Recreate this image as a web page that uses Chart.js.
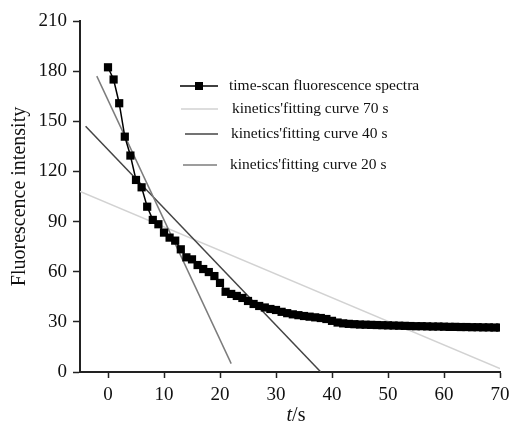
<!DOCTYPE html>
<html>
<head>
<meta charset="utf-8">
<script src="https://cdn.jsdelivr.net/npm/chart.js@4.4.0/dist/chart.umd.min.js"></script>
<style>
  html, body { margin: 0; padding: 0; background: #fff; }
  #wrap { width: 511px; height: 424px; position: relative; }
</style>
</head>
<body>
<div id="wrap"><canvas id="fluoChart" width="511" height="424"></canvas></div>
<script>
// time-scan data (s, a.u.)
const times = [0, 1, 2, 3, 4, 5, 6, 7, 8, 9, 10, 11, 12, 13, 14, 15, 16, 17, 18, 19, 20,
    21, 22, 23, 24, 25, 26, 27, 28, 29, 30, 31, 32, 33, 34, 35, 36, 37, 38, 39, 40,
    41, 42, 43, 44, 45, 46, 47, 48, 49, 50, 51, 52, 53, 54, 55, 56, 57, 58, 59, 60,
    61, 62, 63, 64, 65, 66, 67, 68, 69, 70];
const intensity = [182.3, 175, 160.8, 140.8, 129.5, 114.9, 110.5, 98.9, 91, 88.4, 83.4,
    80.4, 78.6, 73.4, 68.6, 67.4, 64, 61.6, 59.8, 57.4, 53.3,
    48, 46.7, 45.5, 44.3, 42.5, 40.7, 39.5, 38.6, 37.7, 37.1,
    36, 35.2, 34.5, 34, 33.5, 33.1, 32.7, 32.3, 31.7, 30.6,
    29.6, 29.1, 28.8, 28.6, 28.4, 28.3, 28.2, 28.1, 28, 27.9,
    27.8, 27.7, 27.6, 27.5, 27.4, 27.4, 27.3, 27.2, 27.2, 27.1,
    27, 27, 26.9, 26.9, 26.8, 26.8, 26.7, 26.7, 26.6, 26.6];

// kinetics fitting lines: endpoints [t, intensity]
const fit70 = [[-5, 108], [70, 2]];
const fit40 = [[-4, 147], [38, 0]];
const fit20 = [[-2, 177], [22, 5]];

const xTicks = [0, 10, 20, 30, 40, 50, 60, 70];
const yTicks = [0, 30, 60, 90, 120, 150, 180, 210];

const seriesLabels = [
    "time-scan fluorescence spectra",
    "kinetics'fitting curve 70 s",
    "kinetics'fitting curve 40 s",
    "kinetics'fitting curve 20 s"
];

const serif = "'Liberation Serif', 'DejaVu Serif', serif";
const toPts = arr => arr.map(p => ({ x: p[0], y: p[1] }));

// legend drawn inside the plot, rows have uneven spacing like the original
const legendPlugin = {
    id: "innerLegend",
    afterDraw(chart) {
        const ctx = chart.ctx;
        const rows = [
            { y: 86, x0: 180, x1: 218, tx: 229, ds: 0 },
            { y: 109, x0: 181, x1: 218, tx: 232, ds: 1 },
            { y: 134, x0: 185, x1: 218, tx: 231, ds: 2 },
            { y: 165, x0: 183, x1: 217, tx: 230, ds: 3 }
        ];
        ctx.save();
        rows.forEach(r => {
            const ds = chart.data.datasets[r.ds];
            ctx.strokeStyle = ds.borderColor;
            ctx.lineWidth = ds.borderWidth;
            ctx.beginPath();
            ctx.moveTo(r.x0, r.y);
            ctx.lineTo(r.x1, r.y);
            ctx.stroke();
            if (r.ds === 0) {
                ctx.fillStyle = "#000";
                ctx.fillRect(199 - 4, r.y - 4, 8, 8);
            }
            ctx.fillStyle = "#111";
            ctx.font = "15.5px " + serif;
            ctx.textBaseline = "middle";
            ctx.textAlign = "left";
            ctx.fillText(ds.label, r.tx, r.y);
        });

        // x axis title with italic t
        ctx.textBaseline = "alphabetic";
        ctx.font = "italic 20px " + serif;
        const wT = ctx.measureText("t").width;
        ctx.font = "20px " + serif;
        const wS = ctx.measureText("/s").width;
        const start = 296 - (wT + wS) / 2;
        ctx.font = "italic 20px " + serif;
        ctx.fillText("t", start, 421);
        ctx.font = "20px " + serif;
        ctx.fillText("/s", start + wT, 421);
        ctx.restore();
    }
};

document.addEventListener("DOMContentLoaded", () => {
    const ctx = document.getElementById("fluoChart").getContext("2d");

    new Chart(ctx, {
        type: "scatter",
        data: {
            datasets: [
                {
                    label: seriesLabels[0],
                    data: times.map((t, i) => ({ x: t, y: intensity[i] })),
                    showLine: true,
                    borderColor: "#000",
                    backgroundColor: "#000",
                    borderWidth: 1.5,
                    pointStyle: "rect",
                    pointRadius: 5.8,
                    pointBorderWidth: 0,
                    order: 0
                },
                {
                    label: seriesLabels[1],
                    data: toPts(fit70),
                    showLine: true,
                    borderColor: "#d2d2d2",
                    borderWidth: 1.5,
                    pointRadius: 0,
                    order: 3
                },
                {
                    label: seriesLabels[2],
                    data: toPts(fit40),
                    showLine: true,
                    borderColor: "#444",
                    borderWidth: 1.5,
                    pointRadius: 0,
                    order: 2
                },
                {
                    label: seriesLabels[3],
                    data: toPts(fit20),
                    showLine: true,
                    borderColor: "#7c7c7c",
                    borderWidth: 1.5,
                    pointRadius: 0,
                    order: 1
                }
            ]
        },
        options: {
            responsive: false,
            animation: false,
            layout: { padding: { top: 21, right: 11, left: 0, bottom: 0 } },
            plugins: {
                legend: { display: false },
                tooltip: { enabled: false }
            },
            scales: {
                x: {
                    type: "linear",
                    min: -5,
                    max: 70,
                    afterBuildTicks: s => { s.ticks = xTicks.map(v => ({ value: v })); },
                    afterFit: s => { s.height = 52; s.paddingRight = 0; },
                    border: { display: true, color: "#222", width: 2 },
                    grid: { drawOnChartArea: false, drawTicks: true, tickLength: 6, tickWidth: 1.5, tickColor: "#222" },
                    ticks: { color: "#111", padding: 6, font: { family: serif, size: 19 }, maxRotation: 0 }
                },
                y: {
                    min: 0,
                    max: 210,
                    afterBuildTicks: s => { s.ticks = yTicks.map(v => ({ value: v })); },
                    afterFit: s => { s.width = 80; },
                    border: { display: true, color: "#222", width: 2 },
                    grid: { drawOnChartArea: false, drawTicks: true, tickLength: 7, tickWidth: 1.5, tickColor: "#222" },
                    ticks: { color: "#111", padding: 6, font: { family: serif, size: 19 } },
                    title: {
                        display: true,
                        text: "Fluorescence intensity",
                        color: "#111",
                        font: { family: serif, size: 20 },
                        padding: { top: 8, bottom: 0 }
                    }
                }
            }
        },
        plugins: [legendPlugin]
    });
});
</script>
</body>
</html>
